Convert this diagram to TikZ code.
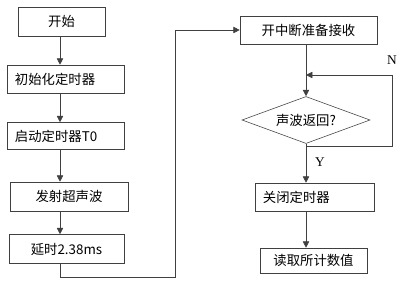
\documentclass[tikz,border=0pt]{standalone}
\usepackage{fontspec}
\setmainfont{Noto Sans CJK SC}
\newfontfamily\yesnofont{Liberation Serif}
\usepackage{tikz}
\usetikzlibrary{arrows.meta,shapes.geometric,positioning,calc}

\begin{document}
\begin{tikzpicture}[x=0.025cm,y=-0.025cm]
    % Define node styles
    \tikzstyle{box}=[rectangle, draw=black!75, fill=white, inner sep=0pt, font=\fontsize{9.5}{11}\selectfont]
    \tikzstyle{left box}=[box, align=left, inner xsep=0.2cm]
    \tikzstyle{decision}=[diamond, draw=black!75, aspect=2.7, inner sep=0pt, font=\fontsize{9.5}{11}\selectfont]
    \tikzstyle{arr}=[draw=black!75, -{Triangle[length=4.5pt,width=4.5pt]}]
    \tikzstyle{line}=[draw=black!75]

    \useasboundingbox (0,0) rectangle (400,284);

    % Left column
    \node[box, minimum width=2.175cm, minimum height=0.725cm] (start) at (61.5,21.5) {开始};
    \node[left box, text width=2.525cm, minimum height=0.7cm] (init) at (65.5,79) {初始化定时器};
    \node[left box, text width=2.525cm, minimum height=0.675cm] (run) at (65.5,136) {启动定时器T0};
    \node[box, minimum width=2.95cm, minimum height=0.725cm] (emit) at (69,196.5) {发射超声波};
    \node[box, minimum width=2.875cm, minimum height=0.725cm] (delay) at (66.5,249) {延时2.38ms};

    % Right column
    \node[box, minimum width=3.425cm, minimum height=0.7cm] (recv) at (308.5,30) {开中断准备接收};
    \node[decision, minimum width=3.2cm, minimum height=1.175cm] (echo) at (306,120) {声波返回?};
    \node[left box, text width=2.575cm, minimum height=0.7cm] (close) at (314.5,197) {关闭定时器};
    \node[box, minimum width=2.675cm, minimum height=0.625cm] (read) at (313.5,260.5) {读取所计数值};

    % Helper coordinates
    \coordinate (lx) at (60,0);
    \coordinate (rx) at (306,0);
    \coordinate (ret) at (175,277);
    \coordinate (join) at (306,75);
    \coordinate (split) at (306,146);
    \coordinate (nback) at (392,0);

    % Connect left column
    \draw[arr] (start.south -| lx) -- (init.north -| lx);
    \draw[arr] (init.south -| lx) -- (run.north -| lx);
    \draw[arr] (run.south -| lx) -- (emit.north -| lx);
    \draw[arr] (emit.south -| lx) -- (delay.north -| lx);
    \draw[arr] (delay.south -| lx) |- (ret) |- (recv.west);

    % Connect right column
    \draw[arr] (recv.south -| rx) -- (echo.north);
    \draw[arr] (echo.south) -- (close.north -| rx);
    \draw[arr] (split) -| (nback |- join) -- (join);
    \draw[arr] (close.south -| rx) -- (read.north -| rx);

    % Labels
    \node[font=\yesnofont\fontsize{9.5}{11}\selectfont] (no) at (392,60) {N};
    \node[font=\yesnofont\fontsize{9.5}{11}\selectfont] (yes) at (320,162) {Y};
\end{tikzpicture}
\end{document}
